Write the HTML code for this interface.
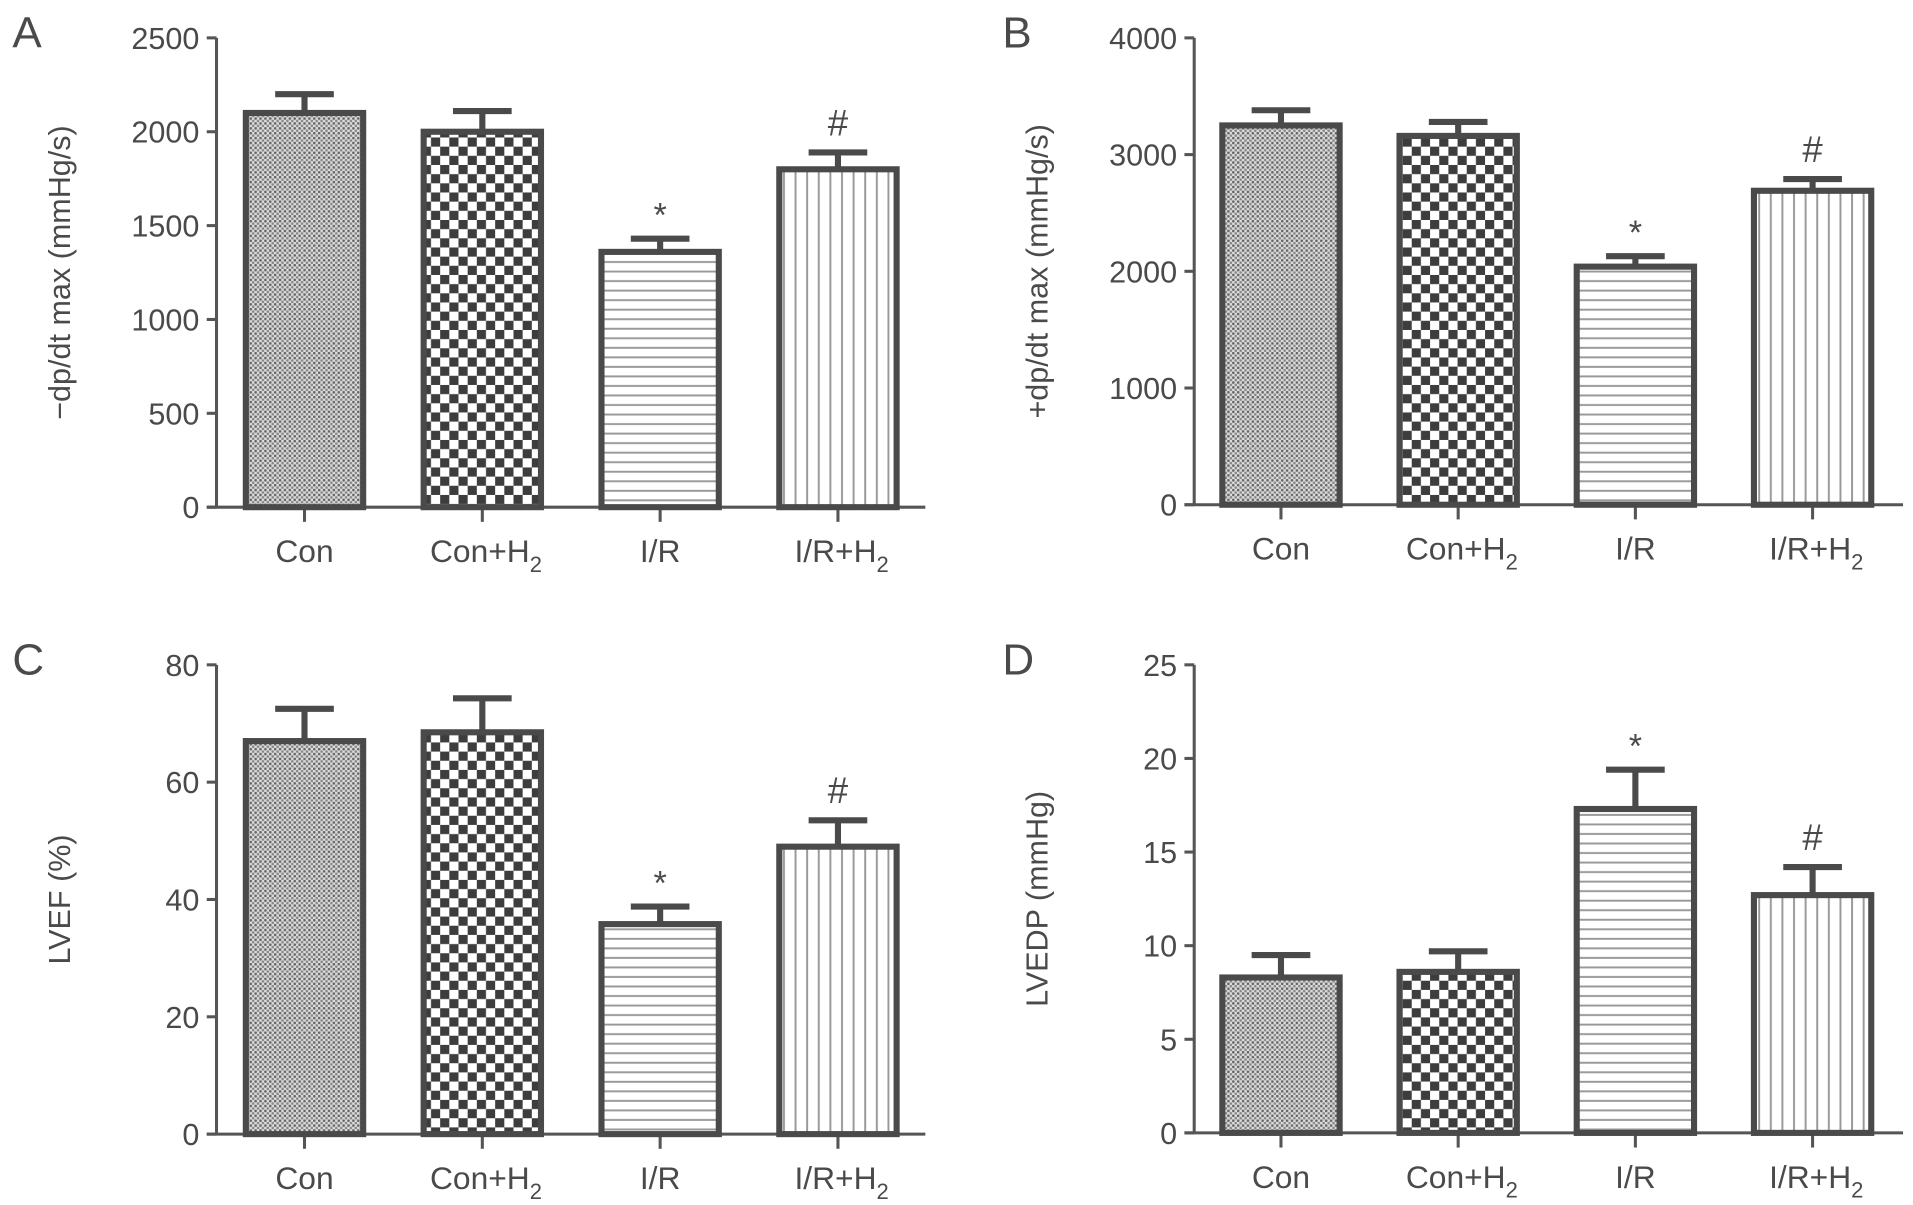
<!DOCTYPE html>
<html><head><meta charset="utf-8"><style>
html,body{margin:0;padding:0;background:#fff;}
svg{display:block;}
text{font-family:"Liberation Sans",sans-serif;fill:#4a4a4a;}
</style></head><body>
<svg id="fig" width="1913" height="1205" viewBox="0 0 1565 986" xmlns="http://www.w3.org/2000/svg">
<defs>
<pattern id="pDots" patternUnits="userSpaceOnUse" width="4" height="4">
<rect width="4" height="4" fill="#ddd"/><circle cx="1" cy="1" r="1.1" fill="#666"/><circle cx="3" cy="3" r="1.1" fill="#888"/>
</pattern>
<pattern id="pCheck" patternUnits="userSpaceOnUse" width="15" height="15">
<rect width="15" height="15" fill="#fff"/><rect x="0" y="0" width="7.5" height="7.5" fill="#3d3d3d"/><rect x="7.5" y="7.5" width="7.5" height="7.5" fill="#3d3d3d"/>
</pattern>
<pattern id="pH" patternUnits="userSpaceOnUse" width="10" height="7.8">
<rect width="10" height="7.8" fill="#fff"/><rect y="3" width="10" height="1.6" fill="#999"/>
</pattern>
<pattern id="pV" patternUnits="userSpaceOnUse" width="9.5" height="10">
<rect width="9.5" height="10" fill="#fff"/><rect x="4" width="1.6" height="10" fill="#999"/>
</pattern>
</defs>
</svg>
<script>
const categories = ["Con","Con+H","I/R","I/R+H"];
const valuesA = [2100, 2000, 1360, 1800];
const errorsA = [100, 110, 70, 90];
const valuesB = [3250, 3160, 2040, 2690];
const errorsB = [130, 120, 90, 100];
const valuesC = [67, 68.5, 35.8, 49];
const errorsC = [5.5, 5.8, 3.0, 4.5];
const valuesD = [8.3, 8.6, 17.3, 12.7];
const errorsD = [1.2, 1.1, 2.1, 1.5];
const ticksA = [0, 500, 1000, 1500, 2000, 2500];
const ticksB = [0, 1000, 2000, 3000, 4000];
const ticksC = [0, 20, 40, 60, 80];
const ticksD = [0, 5, 10, 15, 20, 25];
const marksA = ["", "", "*", "#"];
const marksB = ["", "", "*", "#"];
const marksC = ["", "", "*", "#"];
const marksD = ["", "", "*", "#"];

const NS = "http://www.w3.org/2000/svg";
const svg = document.getElementById('fig');
const fills = ["url(#pDots)","url(#pCheck)","url(#pH)","url(#pV)"];
function mk(tag, attrs, parent){ const e=document.createElementNS(NS,tag); for(const k in attrs) e.setAttribute(k,attrs[k]); (parent||svg).appendChild(e); return e; }

function panel(cfg){
  const g = mk('g',{});
  
  
  const ymax = cfg.ticks[cfg.ticks.length-1];
  const y = v => cfg.y0 - (v/ymax)*(cfg.y0-cfg.yTop);
  const step = cfg.step;
  const xc = i => cfg.x0 + cfg.firstOff + i*step;
  const L = mk('text',{x:cfg.x0-167+(cfg.letterDx||0), y:cfg.yTop+8, 'font-size':36}, g);
  L.textContent = cfg.letter;
  
  
  const ya = mk('line',{x1:cfg.x0,y1:cfg.yTop,x2:cfg.x0,y2:cfg.y0,stroke:'#555','stroke-width':2.5}, g);
  
  
  cfg.ticks.forEach(t=>{
    mk('line',{x1:cfg.x0-8,y1:y(t),x2:cfg.x0,y2:y(t),stroke:'#555','stroke-width':2.5}, g);
    const tx = mk('text',{x:cfg.x0-14,y:y(t)+9,'font-size':25,'text-anchor':'end'}, g);
    tx.textContent = t;
    
    
  });
  const xa = mk('line',{x1:cfg.x0-8,y1:cfg.y0,x2:cfg.x0+580,y2:cfg.y0,stroke:'#555','stroke-width':2.5}, g);
  
  
  const yt = mk('text',{x:0,y:0,'font-size':25,'text-anchor':'middle',transform:`translate(${cfg.x0-120},${(cfg.y0+cfg.yTop)/2}) rotate(-90)`}, g);
  yt.textContent = cfg.title;
  
  
  const bw = 96;
  cfg.values.forEach((v,i)=>{
    const cx = xc(i);
    mk('line',{x1:cx,y1:cfg.y0,x2:cx,y2:cfg.y0+12,stroke:'#555','stroke-width':2.5}, g);
    const et = y(v+cfg.errors[i]);
    const eb = mk('path',{d:`M${cx},${y(v)} V${et} M${cx-24},${et} H${cx+24}`,stroke:'#4a4a4a','stroke-width':5,fill:'none'}, g);
    
    
    const r = mk('rect',{x:cx-bw/2,y:y(v),width:bw,height:cfg.y0-y(v),fill:fills[i],stroke:'#4a4a4a','stroke-width':5}, g);
    
    
    if(cfg.marks[i]){
      const m = mk('text',{x:cx,y:et-(cfg.marks[i]==='*'?10:14),'font-size':cfg.marks[i]==='*'?28:30,'text-anchor':'middle'}, g);
      m.textContent = cfg.marks[i];
      
      
    }
    const lab = mk('text',{x:cx,y:cfg.y0+45,'font-size':26,'text-anchor':'middle'}, g);
    
    
    const c = categories[i];
    if(c.endsWith('+H')){
      lab.appendChild(document.createTextNode(c));
      const s = mk('tspan',{'font-size':18,dy:8}, lab); s.textContent='2';
      lab.setAttribute('x', cx+3);
    } else lab.textContent = c;
  });
}
panel({letter:'A',x0:177,yTop:31,y0:415,step:145.5,firstOff:72,values:valuesA,errors:errorsA,ticks:ticksA,marks:marksA,title:'\u2212dp/dt max (mmHg/s)'});
panel({letter:'B',x0:977,yTop:31,y0:413,step:145,firstOff:71,values:valuesB,errors:errorsB,ticks:ticksB,marks:marksB,title:'+dp/dt max (mmHg/s)',letterDx:10});
panel({letter:'C',x0:177,yTop:544,y0:928,step:145.5,firstOff:72,values:valuesC,errors:errorsC,ticks:ticksC,marks:marksC,title:'LVEF (%)'});
panel({letter:'D',x0:977,yTop:544,y0:927,step:145,firstOff:71,values:valuesD,errors:errorsD,ticks:ticksD,marks:marksD,title:'LVEDP (mmHg)',letterDx:10});
</script>
</body></html>
